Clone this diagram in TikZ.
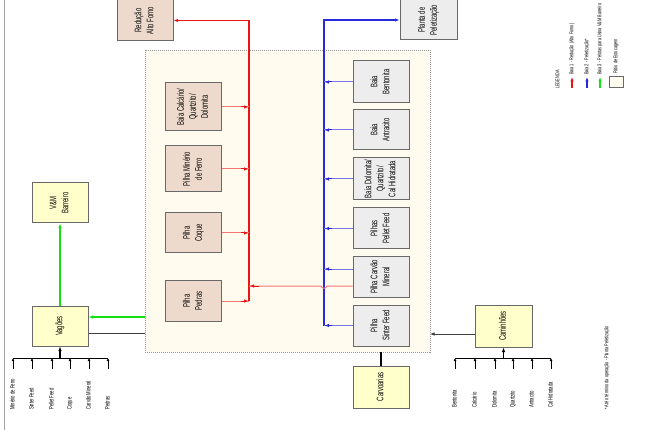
\documentclass[tikz,border=0pt]{standalone}
\usepackage{fontspec}
\setmainfont{Liberation Sans}
\usetikzlibrary{arrows.meta}
\definecolor{redb}{RGB}{235,20,20}
\definecolor{redl}{RGB}{245,120,120}
\definecolor{blueb}{RGB}{40,40,220}
\definecolor{bluel}{RGB}{120,120,235}
\definecolor{greenb}{RGB}{20,225,20}
\definecolor{pinkf}{RGB}{238,218,204}
\definecolor{grayf}{RGB}{237,237,237}
\definecolor{yelf}{RGB}{255,255,204}
\definecolor{creamf}{RGB}{255,251,238}
\definecolor{bord}{RGB}{105,105,105}
\newcommand\rtx[2]{\rotatebox{90}{\scalebox{#1}[1]{\begin{tabular}{@{}c@{}}#2\end{tabular}}}}
\begin{document}
\begin{tikzpicture}[x=1pt,y=-1pt,
  box/.style={draw=bord, line width=1pt, inner sep=0pt, minimum width=56pt, minimum height=41pt, font=\fontsize{9.5}{12}\selectfont},
  pinkbox/.style={box, fill=pinkf},
  graybox/.style={box, fill=grayf},
  yelbox/.style={box, fill=yelf},
  cont/.style={draw=bord!70, fill=creamf, dash pattern=on 1pt off 1pt, line width=0.6pt, inner sep=0pt},
  lbl/.style={inner sep=0pt, anchor=south, font=\fontsize{6.5}{7.5}\selectfont},
  lgl/.style={inner sep=0pt, anchor=south, font=\fontsize{5.5}{6.5}\selectfont},
  tip/.style={-{Latex[length=4.5pt,width=3.5pt]}},
  smalltip/.style={-{Latex[length=3pt,width=3pt]}, line width=0.7pt},
]
\useasboundingbox (0,0) rectangle (658,430);
\draw[bord!60, line width=0.8pt] (4.5,0) -- (4.5,430);

% container
\node[cont, minimum width=285pt, minimum height=302pt] (pat) at (287.5,201) {};

% top boxes
\node[pinkbox, minimum width=56pt, minimum height=41pt] (red) at (145,20.5) {\rtx{0.62}{Redução\\Alto Forno}};
\node[graybox, minimum width=57pt, minimum height=40pt] (plan) at (428.5,20) {\rtx{0.62}{Planta de\\Peletização}};

% left column (baia 1)
\node[pinkbox, minimum height=48pt] (bcq) at (193.5,107) {\rtx{0.62}{Baia Calcário/\\Quartzito/\\Dolomita}};
\node[pinkbox, minimum height=46pt] (pmf) at (193.5,169) {\rtx{0.62}{Pilha Minério\\de Ferro}};
\node[pinkbox, minimum height=40pt] (pcq) at (193.5,233) {\rtx{0.62}{Pilha\\Coque}};
\node[pinkbox, minimum height=41pt] (ppd) at (193.5,301) {\rtx{0.62}{Pilha\\Pedras}};

% right column (baia 2)
\node[graybox, minimum height=42pt] (bben) at (381,82) {\rtx{0.62}{Baia\\Bentonita}};
\node[graybox, minimum height=40pt] (bant) at (381,130) {\rtx{0.62}{Baia\\Antracito}};
\node[graybox, minimum height=42pt] (bdol) at (381,179) {\rtx{0.62}{Baia Dolomita/\\Quartzito/\\Cal Hidratada}};
\node[graybox, minimum height=41pt] (ppf) at (381,228.5) {\rtx{0.62}{Pilhas\\Pellet Feed}};
\node[graybox, minimum height=40pt] (pcm) at (381,277) {\rtx{0.62}{Pilha Carvão\\Mineral}};
\node[graybox, minimum height=41pt] (psf) at (381,325.5) {\rtx{0.62}{Pilha\\Sinter Feed}};

% buses
\coordinate (rtop) at (249,20.5);
\coordinate (rbot) at (249,301);
\coordinate (btop) at (324,20);
\coordinate (bbot) at (324,326);
\draw[draw=redb, line width=1.5pt, tip] (rbot) -- (rtop) -- (red.east);
\draw[draw=blueb, line width=1.5pt, tip] (bbot) -- (btop) -- (plan.west);

\foreach \n in {bcq,pmf,pcq,ppd}{
  \draw[draw=redl, line width=1pt] (\n.east) -- (\n.east -| rtop);
  \draw[draw=redb, line width=1pt, tip] ([xshift=-8pt]\n.east -| rtop) -- ([xshift=-0.5pt]\n.east -| rtop);
}
\foreach \n in {bben,bant,bdol,ppf,psf}{
  \draw[draw=bluel, line width=1pt] (\n.west) -- (\n.west -| btop);
  \draw[draw=blueb, line width=1pt, tip] ([xshift=8pt]\n.west -| btop) -- ([xshift=0.5pt]\n.west -| btop);
}
\coordinate (pcmb) at ([yshift=8pt]pcm.west);
\draw[draw=bluel, line width=1pt] (pcmb) -- (pcmb -| btop);
\draw[draw=blueb, line width=1pt, tip] ([xshift=8pt]pcmb -| btop) -- ([xshift=0.5pt]pcmb -| btop);
\coordinate (pcmr) at ([yshift=-9pt]pcm.west);
\coordinate (hopa) at (327,286);
\coordinate (hopb) at (321,286);
\draw[draw=redl, line width=1pt] (pcmr) -- (hopa) .. controls (326,289) and (322,289) .. (hopb) -- (pcmr -| rtop);
\draw[draw=redb, line width=1pt, tip] ([xshift=10pt]pcmr -| rtop) -- ([xshift=0.5pt]pcmr -| rtop);

% left side
\node[yelbox, minimum width=56pt, minimum height=40pt] (vmb) at (60,203) {\rtx{0.62}{V\&M\\Barreiro}};
\node[yelbox, minimum width=56pt, minimum height=40pt] (vag) at (60,326) {\rtx{0.62}{Vagões}};
\draw[draw=greenb, line width=1.4pt, tip] (vag) -- (vmb);
\coordinate (gin) at (145,317);
\draw[draw=greenb, line width=1.4pt, tip] (gin) -- (gin -| vag.east);
\coordinate (kin) at (145,333);
\draw[draw=black!75, line width=1pt] (kin -| vag.east) -- (kin);

% left bus
\coordinate (lb1) at (13,358);
\coordinate (lb6) at (108,358);
\draw[black, line width=0.8pt] (lb1) -- (lb6);
\draw[black, line width=1.3pt, tip] (lb1 -| vag.south) -- (vag.south);
\foreach \x/\t [count=\i] in {13/Minério de Ferro,32/Sinter Feed,52/Pellet Feed,70/Coque,89/Carvão Mineral,108/Pedras}{
  \coordinate (la\i) at (\x,369);
  \draw[black, smalltip] (la\i) -- (la\i |- lb1);
  \node[lbl] (lt\i) at (\x,410) {\rtx{0.65}{\t}};
}

% right side
\node[yelbox, minimum width=57pt, minimum height=42pt] (cam) at (503.5,326) {\rtx{0.62}{Caminhões}};
\coordinate (cin) at (430,334);
\draw[draw=black!75, line width=1pt, tip] (cin -| cam.west) -- (cin);
\coordinate (rb1) at (455,358);
\coordinate (rb6) at (551,358);
\draw[black, line width=0.8pt] (rb1) -- (rb6);
\draw[black, line width=1.3pt, tip] (rb1 -| cam.south) -- (cam.south);
\foreach \x/\t [count=\i] in {455/Bentonita,475/Calcário,495/Dolomita/Magnesita,513/Quartzito,532/Antracito,551/Cal Hidratada}{
  \coordinate (ra\i) at (\x,369);
  \draw[black, smalltip] (ra\i) -- (ra\i |- rb1);
  \node[lbl] (rt\i) at (\x,408) {\rtx{0.65}{\t}};
}

% carvoarias
\node[yelbox, minimum width=56pt, minimum height=42pt] (carv) at (381,387) {\rtx{0.62}{Carvoarias}};
\draw[black, line width=1.3pt] (carv.north) -- (carv.north |- pat.south);

% legend
\node[lgl] (leg) at (558,89) {\rtx{0.7}{LEGENDA}};
\coordinate (l1a) at (572,88);
\coordinate (l1b) at (572,77);
\draw[draw=redb, line width=1.2pt, tip] (l1a) -- (l1b);
\node[lgl] (lg1) at (572,75) {\rtx{0.7}{Baia 1 - Redução (Alto Forno)}};
\coordinate (l2a) at (587,88);
\coordinate (l2b) at (587,77);
\draw[draw=blueb, line width=1.2pt, tip] (l2a) -- (l2b);
\node[lgl] (lg2) at (587,75) {\rtx{0.7}{Baia 2 - Peletização*}};
\coordinate (l3a) at (600,88);
\coordinate (l3b) at (600,77);
\draw[draw=greenb, line width=1.2pt, tip] (l3a) -- (l3b);
\node[lgl] (lg3) at (600,75) {\rtx{0.7}{Baia 3 - Pelotas para Usina V\&M Barreiro}};
\node[draw=bord, fill=creamf, line width=0.8pt, minimum width=14pt, minimum height=11pt, inner sep=0pt] (lgb) at (616,81.5) {};
\node[lgl] (lg4) at (616,74) {\rtx{0.7}{Pátio de Estocagem}};

% note
\node[lgl] (note) at (607,410) {\rtx{0.7}{* Até o término da operação - Planta Peletização}};
\end{tikzpicture}
\end{document}
